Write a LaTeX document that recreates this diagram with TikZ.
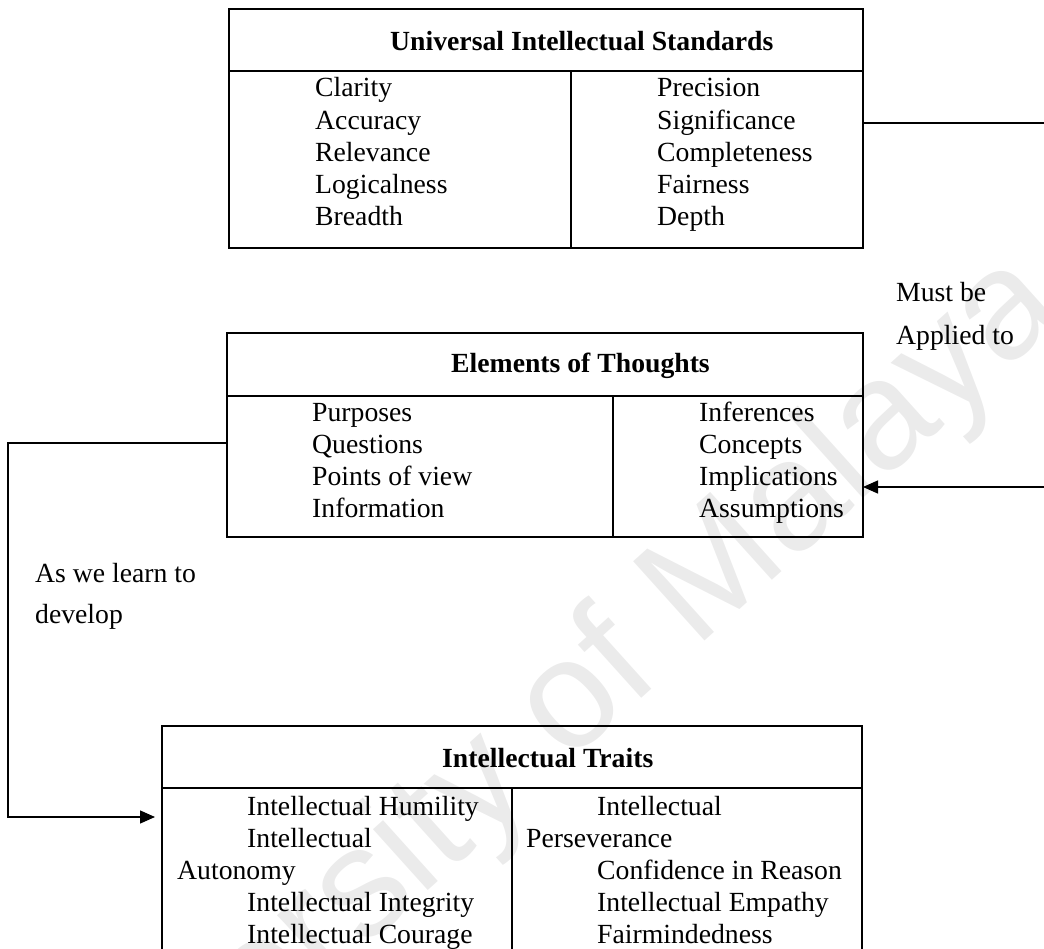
\documentclass[tikz,border=0pt]{standalone}
\usepackage{fontspec}
\setmainfont{Liberation Serif}
\newfontfamily\wmfont{Liberation Sans}
\usetikzlibrary{arrows.meta}

\begin{document}
\begin{tikzpicture}[x=1pt,y=-1pt,
  cell/.style={draw, line width=1.4pt, rectangle, inner sep=0pt, outer sep=0pt, anchor=north west},
  txt/.style={anchor=base west, inner sep=0pt, font=\fontsize{27.7}{33}\selectfont},
  head/.style={anchor=base west, inner sep=0pt, font=\fontsize{27.7}{33}\selectfont\bfseries},
  link/.style={line width=1.4pt},
  arr/.style={line width=1.4pt, -{Triangle[length=15pt,width=13pt]}},
  wm/.style={text=black!8, font=\fontsize{155}{155}\wmfont, inner sep=0pt}
]
\useasboundingbox (0,0) rectangle (1044,949);
\begin{scope}
\clip (0,0) rectangle (1044,949);

% faint diagonal watermark behind everything
\node[wm, rotate=42] (wmark) at (522,752) {University of Malaya};

% ---- Universal Intellectual Standards ----
\node[cell, minimum width=634pt, minimum height=62pt] (std-head) at (229,9) {};
\node[cell, minimum width=342pt, minimum height=177pt] (std-left) at (229,71) {};
\node[cell, minimum width=292pt, minimum height=177pt] (std-right) at (571,71) {};
\node[head] (std-title) at (390,51) {Universal Intellectual Standards};
\node[txt] (s1) at (315,97.0) {Clarity};
\node[txt] (s2) at (315,129.2) {Accuracy};
\node[txt] (s3) at (315,161.4) {Relevance};
\node[txt] (s4) at (315,193.6) {Logicalness};
\node[txt] (s5) at (315,225.8) {Breadth};
\node[txt] (s6) at (657,97.0) {Precision};
\node[txt] (s7) at (657,129.2) {Significance};
\node[txt] (s8) at (657,161.4) {Completeness};
\node[txt] (s9) at (657,193.6) {Fairness};
\node[txt] (s10) at (657,225.8) {Depth};

% ---- Elements of Thoughts ----
\node[cell, minimum width=636pt, minimum height=63pt] (elm-head) at (227,333) {};
\node[cell, minimum width=386pt, minimum height=141pt] (elm-left) at (227,396) {};
\node[cell, minimum width=250pt, minimum height=141pt] (elm-right) at (613,396) {};
\node[head] (elm-title) at (451,373) {Elements of Thoughts};
\node[txt] (e1) at (312,421.5) {Purposes};
\node[txt] (e2) at (312,453.5) {Questions};
\node[txt] (e3) at (312,485.5) {Points of view};
\node[txt] (e4) at (312,517.5) {Information};
\node[txt] (e5) at (699,421.5) {Inferences};
\node[txt] (e6) at (699,453.5) {Concepts};
\node[txt] (e7) at (699,485.5) {Implications};
\node[txt] (e8) at (699,517.5) {Assumptions};

% ---- Intellectual Traits ----
\node[cell, minimum width=700pt, minimum height=62pt] (trt-head) at (162,726) {};
\node[cell, minimum width=350pt, minimum height=200pt] (trt-left) at (162,788) {};
\node[cell, minimum width=350pt, minimum height=200pt] (trt-right) at (512,788) {};
\node[head] (trt-title) at (442,767) {Intellectual Traits};
\node[txt] (t1) at (247,815) {Intellectual Humility};
\node[txt] (t2) at (247,847) {Intellectual};
\node[txt] (t3) at (177,879) {Autonomy};
\node[txt] (t4) at (247,911) {Intellectual Integrity};
\node[txt] (t5) at (247,943) {Intellectual Courage};
\node[txt] (t6) at (597,815) {Intellectual};
\node[txt] (t7) at (526,847) {Perseverance};
\node[txt] (t8) at (597,879) {Confidence in Reason};
\node[txt] (t9) at (597,911) {Intellectual Empathy};
\node[txt] (t10) at (597,943) {Fairmindedness};

% ---- connector labels ----
\node[txt] (lab-must) at (896,302) {Must be};
\node[txt] (lab-applied) at (896,345) {Applied to};
\node[txt] (lab-learn) at (35,582) {As we learn to};
\node[txt] (lab-develop) at (35,623) {develop};

% ---- connectors ----
\coordinate (outR) at (1056,123);
\coordinate (inR) at (1056,487);
\coordinate (lt) at (8,443);
\coordinate (lb) at (8,817);
\draw[link] (std-right.east |- outR) -- (outR);
\draw[arr] (inR) -- (elm-right.east |- inR);
\draw[arr, shorten >=7pt] (elm-left.west |- lt) -- (lt) -- (lb) -- (trt-left.west |- lb);
\end{scope}
\end{tikzpicture}
\end{document}
